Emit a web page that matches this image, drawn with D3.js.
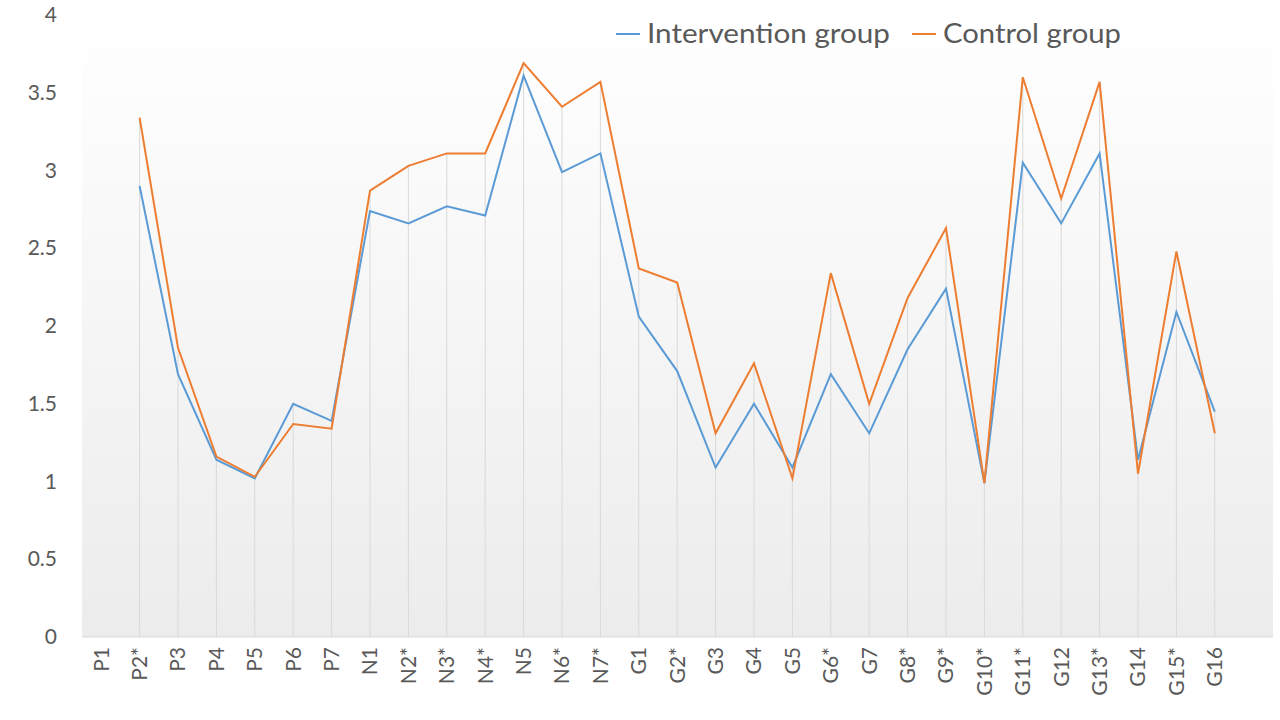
<!DOCTYPE html>
<html><head><meta charset="utf-8">
<script src="https://cdn.jsdelivr.net/npm/d3@7"></script>
<style>body{margin:0;background:#fff}text{font-family:Lato,"Open Sans",sans-serif;fill:#595959}</style>
</head><body><svg id="c" width="1280" height="720"></svg>
<script>
const categories=["P1","P2*","P3","P4","P5","P6","P7","N1","N2*","N3*","N4*","N5","N6*","N7*","G1","G2*","G3","G4","G5","G6*","G7","G8*","G9*","G10*","G11*","G12","G13*","G14","G15*","G16"];
const intervention=[null,2.9,1.69,1.14,1.02,1.50,1.39,2.74,2.66,2.77,2.71,3.61,2.99,3.11,2.06,1.71,1.09,1.50,1.09,1.69,1.31,1.85,2.24,0.99,3.05,2.66,3.11,1.14,2.09,1.45];
const control=[null,3.34,1.86,1.16,1.03,1.37,1.34,2.87,3.03,3.11,3.11,3.69,3.41,3.57,2.37,2.28,1.31,1.76,1.02,2.34,1.50,2.18,2.63,0.99,3.60,2.82,3.57,1.05,2.48,1.31];
const yTicks=[0,0.5,1,1.5,2,2.5,3,3.5,4];
const svg=d3.select("#c");
const L=82,R=1234,T=15,B=637;
const defs=svg.append("defs");
const g=defs.append("linearGradient").attr("id","bg").attr("x1",0).attr("y1",0).attr("x2",0).attr("y2",1);
g.append("stop").attr("offset","0").attr("stop-color","#ffffff");
g.append("stop").attr("offset","1").attr("stop-color","#ececec");
svg.append("rect").attr("x",L).attr("y",T).attr("width",1273-L).attr("height",B-T).attr("fill","url(#bg)");
const x=d3.scaleBand().domain(categories).range([L,R]);
const y=d3.scaleLinear().domain([0,4]).range([B,T]);
const cx=c=>x(c)+x.bandwidth()/2;
svg.append("g").selectAll("line").data(categories.filter((c,i)=>intervention[i]!=null)).join("line")
 .attr("x1",cx).attr("x2",cx).attr("y2",B)
 .attr("y1",c=>{const i=categories.indexOf(c);return y(Math.max(intervention[i],control[i]));})
 .attr("stroke","#d9d9d9").attr("stroke-width",1);
svg.append("line").attr("x1",L).attr("x2",1273).attr("y1",B).attr("y2",B).attr("stroke","#d9d9d9");
const ya=svg.append("g").attr("transform",`translate(${L},0)`).call(d3.axisLeft(y).tickValues(yTicks).tickSize(0).tickPadding(25).tickFormat(d=>String(d)));
ya.select(".domain").remove();
ya.selectAll("text").style("font-size","21px").attr("fill","#595959");
const xa=svg.append("g").attr("transform",`translate(0,${B})`).call(d3.axisBottom(x).tickSize(0));
xa.select(".domain").remove();
xa.selectAll("text").style("font-size","21px").attr("fill","#595959")
 .attr("transform","rotate(-90)").attr("text-anchor","end").attr("x",-10).attr("y",0).attr("dy","0.35em");
const line=d3.line().defined(d=>d.v!=null).x(d=>cx(d.c)).y(d=>y(d.v));
[[intervention,"#5b9bd5"],[control,"#ed7d31"]].forEach(([s,col])=>{
 svg.append("path").datum(categories.map((c,i)=>({c,v:s[i]}))).attr("d",line).attr("fill","none").attr("stroke",col).attr("stroke-width",2);
});
const leg=[["Intervention group","#5b9bd5",616,243],["Control group","#ed7d31",912,178]];
leg.forEach(([t,col,lx,w])=>{
 svg.append("line").attr("x1",lx).attr("x2",lx+24).attr("y1",34).attr("y2",34).attr("stroke",col).attr("stroke-width",2);
 svg.append("text").attr("x",lx+31).attr("y",34).attr("dy","0.35em").style("font-size","27px").attr("textLength",w).attr("lengthAdjust","spacingAndGlyphs").text(t);
});
</script></body></html>
